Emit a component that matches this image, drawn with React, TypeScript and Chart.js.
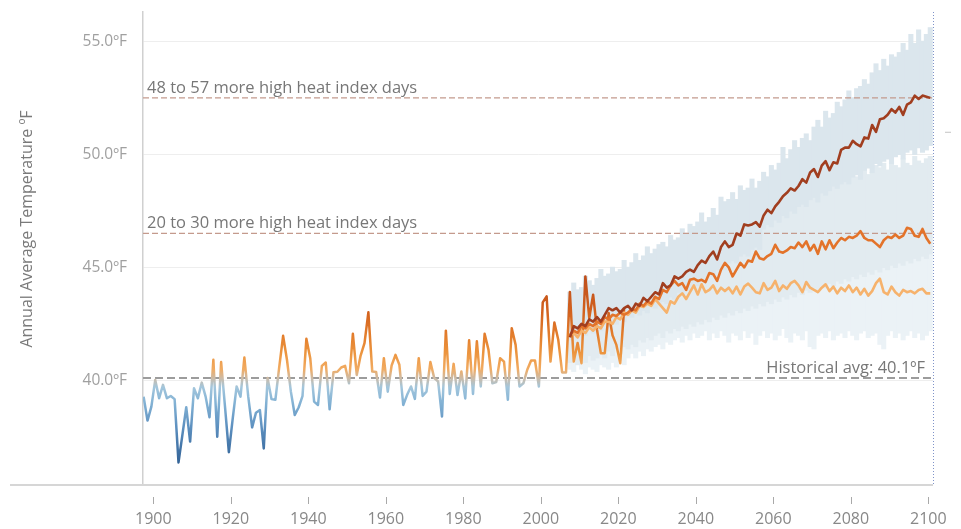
import React, { useEffect, useRef } from "react";
import { Chart, registerables } from "chart.js";

Chart.register(...registerables);

// ---------- DATA ----------
const HIST_START = 1897;
const histTemps = [
  39.28, 38.22, 38.84, 40.02, 39.21, 39.8, 39.21, 39.31, 39.17, 36.37,
  37.58, 38.81, 37.29, 39.65, 39.21, 39.9, 39.28, 38.37, 40.91, 37.51,
  40.81, 38.84, 36.82, 38.32, 39.73, 39.28, 41.01, 39.28, 37.92, 38.57,
  38.69, 36.99, 40.1, 39.17, 39.14, 40.6, 41.97, 40.9, 39.5, 38.47,
  38.8, 39.3, 41.84, 40.98, 39.06, 38.91, 40.64, 40.79, 38.72, 40.36,
  40.38, 40.57, 40.64, 39.87, 42.06, 40.24, 41.1, 41.65, 43.01, 40.39,
  40.37, 39.24, 40.98, 39.5, 40.66, 41.13, 40.69, 38.91, 39.36, 39.73,
  39.18, 40.98, 39.31, 39.5, 40.81, 40.1, 39.95, 38.4, 42.2, 39.4,
  40.73, 39.35, 40.39, 39.2, 41.77, 39.4, 41.73, 39.73, 42.06, 41.35,
  39.87, 39.93, 40.98, 40.83, 39.14, 42.31, 41.57, 39.73, 39.87, 40.47,
  40.88, 40.88, 39.73, 43.45, 43.72, 40.83, 42.56, 41.8, 40.35, 40.35,
  43.91, 40.83, 41.65, 40.76, 44.6, 42.76, 43.79, 42.24, 41.2, 41.2,
  42.98, 42.0, 41.57, 40.76, 43.2,
];

const PROJ_START = 2007;
const highScenario = [
  41.9, 42.4, 42.3, 42.5, 42.4, 42.7, 42.6, 42.8, 42.6, 42.9,
  43.2, 43.1, 43.2, 43.0, 43.2, 43.3, 43.1, 43.4, 43.3, 43.65,
  43.5, 43.7, 43.9, 43.8, 44.3, 44.1, 44.2, 44.6, 44.5, 44.6,
  44.8, 44.9, 44.8, 45.1, 45.3, 45.2, 45.5, 45.7, 45.35, 45.9,
  46.15, 45.9, 46.0, 46.5, 46.4, 46.9, 46.85, 46.9, 47.0, 46.8,
  47.3, 47.55, 47.4, 47.7, 47.9, 48.15, 48.3, 48.5, 48.4, 48.6,
  48.9, 48.75, 49.2, 49.35, 49.0, 49.5, 49.7, 49.3, 49.65, 49.6,
  50.2, 50.3, 50.3, 50.6, 50.45, 50.35, 50.75, 50.7, 51.3, 51.0,
  51.55, 51.6, 51.75, 52.0, 51.85, 52.1, 51.75, 52.2, 52.3, 52.6,
  52.45, 52.6, 52.55, 52.5,
];
const midScenario = [
  42.0, 42.2, 42.1, 42.4, 42.3, 42.5, 42.4, 42.6, 42.5, 42.8,
  42.7, 42.9, 42.85, 43.0, 42.9, 43.0, 43.15, 43.1, 43.4, 43.3,
  43.5, 43.4, 43.7, 43.6, 44.0, 43.9, 44.2, 44.4, 44.2, 44.3,
  44.0, 44.45, 44.5, 44.4, 44.45, 44.35, 44.75, 44.7, 44.4, 44.9,
  45.2, 45.0, 44.6, 44.9, 45.2, 45.0, 45.3, 45.25, 45.7, 45.4,
  45.35, 45.5, 45.6, 46.0, 45.7, 45.65, 45.75, 45.9, 45.85, 46.1,
  45.9, 46.15, 45.75, 46.0, 45.6, 46.15, 45.8, 46.2, 45.85, 46.1,
  46.3, 46.2, 46.35, 46.3, 46.4, 46.6, 46.3, 46.2, 46.2, 46.05,
  45.9, 46.2, 46.35, 46.3, 46.45, 46.3, 46.4, 46.75, 46.7, 46.4,
  46.35, 46.7, 46.3, 46.05,
];
const lowScenario = [
  42.0, 42.1, 41.9, 42.2, 42.1, 42.35, 42.2, 42.4, 42.3, 42.6,
  42.6, 42.5, 42.8, 42.7, 43.0, 42.9, 43.1, 43.0, 43.3, 43.25,
  43.4, 43.3, 43.6, 43.4, 43.2, 43.0, 43.5, 43.4, 43.7, 43.85,
  43.6, 43.9, 44.2, 43.8, 44.25, 43.9, 44.0, 44.2, 43.85, 44.1,
  43.95, 44.1, 43.85, 44.15, 43.8, 44.15, 44.28, 44.1, 43.9, 43.85,
  44.3, 44.0, 44.1, 44.4, 43.95, 44.2, 44.05, 44.3, 44.4, 44.2,
  43.9, 44.35, 44.1, 44.0, 43.9, 44.1, 44.25, 43.95, 44.15, 43.85,
  44.1, 43.95, 44.2, 43.9, 44.1, 43.8, 44.05, 43.75, 43.95, 44.3,
  44.5, 43.9, 43.8, 44.15, 43.9, 43.75, 44.0, 43.9, 43.95, 43.85,
  44.0, 44.05, 43.85, 43.85,
];

// model ranges (shaded bars)
const highRangeLo = [
  41.8, 42.0, 41.9, 42.1, 42.0, 42.3, 42.1, 42.4, 42.2, 42.5,
  42.4, 42.6, 42.5, 42.7, 42.6, 42.9, 42.8, 43.0, 42.9, 43.1,
  43.0, 43.3, 43.2, 43.4, 43.5, 43.4, 43.7, 43.6, 43.9, 43.8,
  44.1, 44.0, 44.3, 44.2, 44.5, 44.4, 44.7, 44.6, 44.9, 45.0,
  44.9, 45.2, 45.3, 45.2, 45.5, 45.6, 45.5, 45.8, 45.9, 45.8,
  46.7, 46.9, 46.8, 47.1, 47.0, 47.3, 47.2, 47.5, 47.4, 47.7,
  47.8, 47.7, 48.0, 48.1, 47.9, 48.3, 48.2, 48.4, 48.6, 48.5,
  48.7, 48.8, 48.7, 49.0, 49.1, 48.9, 49.3, 49.4, 49.2, 49.6,
  49.5, 49.7, 49.8, 49.6, 49.9, 50.0, 49.8, 50.1, 50.2, 50.0,
  50.3, 50.1, 50.2, 50.4,
];
const highRangeHi = [
  43.9, 44.3, 44.0, 44.1, 44.6, 44.4, 44.2, 44.5, 44.9, 44.6,
  44.7, 45.0, 44.8, 44.9, 45.3, 45.0, 45.2, 45.6, 45.3, 45.5,
  45.9, 45.6, 45.8, 46.0, 46.1, 45.9, 46.4, 46.2, 46.3, 46.7,
  46.5, 46.9, 46.8, 47.0, 47.4, 47.0, 47.2, 47.6, 47.3, 48.1,
  47.9, 48.0, 48.3, 48.0, 48.6, 48.4, 48.5, 48.9, 48.5, 48.8,
  49.2, 49.0, 49.5, 49.3, 49.6, 50.3, 49.8, 50.2, 50.6, 50.3,
  50.7, 50.9, 50.6, 51.2, 51.5, 51.2, 51.9, 51.6, 51.8, 52.3,
  52.1, 52.4, 52.8, 52.5, 52.9, 53.0, 53.3, 53.1, 53.6, 54.0,
  53.7, 54.2, 53.9, 54.4, 54.3, 54.5, 54.9, 54.6, 55.3, 54.9,
  55.5, 55.0, 55.3, 55.6,
];
const midRangeLo = [
  40.8, 40.9, 40.7, 41.0, 40.8, 41.1, 40.9, 41.0, 41.2, 41.0,
  41.3, 41.1, 41.4, 41.2, 41.5, 41.4, 41.6, 41.5, 41.8, 41.7,
  41.9, 41.8, 42.0, 42.1, 41.9, 42.2, 42.1, 42.3, 42.2, 42.4,
  42.3, 42.5, 42.4, 42.6, 42.5, 42.7, 42.6, 42.8, 42.7, 42.9,
  42.8, 43.0, 42.9, 43.1, 43.0, 43.2, 43.1, 43.3, 43.2, 43.4,
  43.3, 43.5, 43.4, 43.6, 43.5, 43.7, 43.6, 43.8, 43.7, 43.9,
  43.8, 44.0, 43.9, 44.1, 44.0, 44.2, 44.1, 44.3, 44.2, 44.4,
  44.3, 44.5, 44.4, 44.6, 44.5, 44.7, 44.6, 44.8, 44.7, 44.9,
  44.8, 45.0, 44.9, 45.1, 45.0, 45.2, 45.1, 45.3, 45.2, 45.4,
  45.3, 45.5, 45.4, 45.6,
];
const midRangeHi = [
  43.4, 43.6, 43.5, 43.8, 43.6, 43.9, 44.0, 43.8, 44.1, 44.2,
  44.0, 44.3, 44.4, 44.2, 44.5, 44.6, 44.4, 44.8, 44.7, 45.0,
  44.9, 45.2, 45.1, 45.3, 45.5, 45.3, 45.6, 45.8, 45.6, 45.9,
  46.0, 45.8, 46.2, 46.1, 46.4, 46.2, 46.5, 46.7, 46.4, 46.8,
  46.9, 46.7, 47.0, 47.2, 46.9, 47.3, 47.1, 47.4, 47.6, 47.3,
  47.6, 47.8, 47.7, 47.9, 48.0, 47.9, 48.1, 48.2, 48.0, 48.3,
  48.4, 48.3, 48.5, 48.4, 48.7, 48.6, 48.5, 48.8, 48.9, 48.7,
  49.0, 48.9, 49.1, 49.2, 49.0, 49.3, 49.4, 49.1, 49.2, 49.5,
  49.4, 49.6, 49.3, 49.7, 49.5, 49.4, 49.8, 49.6, 49.5, 49.9,
  49.7, 49.6, 49.8, 49.9,
];
const lowRangeLo = [
  40.5, 40.4, 40.7, 40.5, 40.3, 40.6, 40.5, 40.4, 40.7, 40.6,
  40.5, 40.8, 40.6, 40.9, 40.7, 41.0, 41.2, 41.0, 41.3, 41.1,
  41.4, 41.3, 41.5, 41.6, 41.4, 41.7, 41.6, 41.8, 41.9, 41.7,
  42.0, 41.8, 42.1, 41.9, 42.0, 42.2, 41.8, 42.1, 41.9, 42.2,
  42.0, 41.7, 42.1, 42.0, 41.8, 42.2, 41.9, 42.1, 41.6, 42.0,
  42.2, 41.9, 42.1, 41.8, 42.0, 42.3, 41.9, 41.7, 42.1, 42.0,
  41.8, 42.2, 41.5, 41.4, 42.0, 42.1, 41.9, 42.2, 41.8, 42.0,
  42.1, 41.9, 42.2, 42.0, 41.8, 42.1, 42.2, 41.9, 42.0, 42.1,
  41.6, 41.4, 42.0, 42.2, 41.9, 42.1, 41.8, 42.0, 42.2, 41.9,
  42.1, 41.8, 42.0, 42.2,
];
const lowRangeHi = [
  43.0, 43.2, 43.1, 43.3, 43.4, 43.2, 43.5, 43.4, 43.6, 43.5,
  43.7, 43.6, 43.8, 43.9, 43.7, 44.0, 43.9, 44.1, 44.2, 44.0,
  44.3, 44.2, 44.4, 44.3, 44.5, 44.6, 44.4, 44.7, 44.6, 44.8,
  44.7, 44.9, 44.8, 45.0, 44.9, 45.1, 45.0, 44.9, 45.2, 45.1,
  45.0, 45.3, 45.2, 45.1, 45.4, 45.2, 45.3, 45.1, 45.4, 45.3,
  45.2, 45.5, 45.3, 45.4, 45.2, 45.5, 45.6, 45.3, 45.4, 45.5,
  45.3, 45.6, 45.4, 45.5, 45.7, 45.4, 45.6, 45.5, 45.3, 45.6,
  45.7, 45.4, 45.6, 45.5, 45.8, 45.6, 45.4, 45.7, 45.5, 45.6,
  45.8, 45.5, 45.7, 45.6, 45.4, 45.7, 45.9, 45.6, 45.5, 45.8,
  45.6, 45.7, 45.9, 45.6,
];

const xTickYears = [1900, 1920, 1940, 1960, 1980, 2000, 2020, 2040, 2060, 2080, 2100];
const yTickValues = [40, 45, 50, 55];

const HIGH_REF = 52.5;
const MID_REF = 46.5;
const HIST_AVG = 40.1;
const HIGH_REF_LABEL = "48 to 57 more high heat index days";
const MID_REF_LABEL = "20 to 30 more high heat index days";
const HIST_AVG_LABEL = "Historical avg: 40.1\u00BAF";
const Y_TITLE = "Annual Average Temperature \u00BAF";

// axis range
const X_MIN = 1897.34;
const X_MAX = 2101.21;
const Y_MIN = 35.37;
const Y_MAX = 56.3;

// ---------- STYLE ----------
const FONT = '"Open Sans", Lato, "DejaVu Sans", sans-serif';
const tempStops: [number, string][] = [
  [36.0, "#2c5a8e"],
  [37.0, "#4274a7"],
  [38.0, "#5f92c1"],
  [39.0, "#83b2d4"],
  [39.7, "#a3c6dc"],
  [40.1, "#cdbba6"],
  [40.5, "#f1ab62"],
  [41.2, "#ec953f"],
  [42.0, "#e37d2c"],
  [43.0, "#d3621e"],
  [45.0, "#b9491a"],
];

const histColor = (context: any) => {
  const chart = context.chart;
  const { ctx, chartArea, scales } = chart;
  if (!chartArea || !scales || !scales.y) return "#e0893a";
  const ys = scales.y;
  const v0 = tempStops[0][0];
  const v1 = tempStops[tempStops.length - 1][0];
  const g = ctx.createLinearGradient(0, ys.getPixelForValue(v0), 0, ys.getPixelForValue(v1));
  tempStops.forEach(([v, c]) => g.addColorStop((v - v0) / (v1 - v0), c));
  return g;
};

const toPoints = (start: number, vals: number[]) => vals.map((v, i) => ({ x: start + i + 0.5, y: v }));
const toRange = (start: number, lo: number[], hi: number[]) =>
  lo.map((v, i) => ({ x: start + i + 0.5, y: [v, hi[i]] }));

const extrasPlugin = {
  id: "extras",
  afterDraw(chart: any) {
    const { ctx, chartArea: a, scales } = chart;
    const x = scales.x;
    const y = scales.y;
    ctx.save();
    // bottom axis rule
    ctx.strokeStyle = "#d6d6d6";
    ctx.lineWidth = 2;
    ctx.beginPath();
    ctx.moveTo(10, a.bottom);
    ctx.lineTo(a.right, a.bottom);
    ctx.stroke();
    // tick marks (detached from axis)
    ctx.strokeStyle = "#a9a9a9";
    ctx.lineWidth = 1;
    xTickYears.forEach((v) => {
      const px = Math.round(x.getPixelForValue(v)) + 0.5;
      ctx.beginPath();
      ctx.moveTo(px, a.bottom + 12);
      ctx.lineTo(px, a.bottom + 19);
      ctx.stroke();
    });
    // right edge dotted border
    ctx.strokeStyle = "#7f93c9";
    ctx.setLineDash([1, 2]);
    ctx.beginPath();
    ctx.moveTo(a.right + 0.5, a.top);
    ctx.lineTo(a.right + 0.5, a.bottom);
    ctx.stroke();
    ctx.setLineDash([]);
    ctx.strokeStyle = "#c4c4c4";
    ctx.beginPath();
    ctx.moveTo(a.right + 12, y.getPixelForValue(51.0) + 0.5);
    ctx.lineTo(a.right + 18, y.getPixelForValue(51.0) + 0.5);
    ctx.stroke();
    // reference labels
    ctx.font = `16.5px ${FONT}`;
    ctx.fillStyle = "#777777";
    ctx.textBaseline = "alphabetic";
    ctx.textAlign = "left";
    ctx.fillText(HIGH_REF_LABEL, a.left + 4, y.getPixelForValue(HIGH_REF) - 5);
    ctx.fillText(MID_REF_LABEL, a.left + 4, y.getPixelForValue(MID_REF) - 5);
    ctx.textAlign = "right";
    ctx.fillText(HIST_AVG_LABEL, a.right - 8, y.getPixelForValue(HIST_AVG) - 5);
    // y title
    ctx.translate(27, 229);
    ctx.rotate(-Math.PI / 2);
    ctx.textAlign = "center";
    ctx.textBaseline = "middle";
    ctx.fillStyle = "#7a7a7a";
    ctx.font = `16px ${FONT}`;
    ctx.fillText(Y_TITLE, 0, 0);
    ctx.restore();
  },
};

export default function App() {
  const canvasRef = useRef<HTMLCanvasElement | null>(null);

  useEffect(() => {
    document.body.style.margin = "0";
    const canvas = canvasRef.current;
    if (!canvas) return;

    const refLine = (val: number, color: string, width: number, dash: number[], order: number) => ({
      type: "line" as const,
      data: [
        { x: X_MIN, y: val },
        { x: X_MAX, y: val },
      ],
      borderColor: color,
      borderWidth: width,
      borderDash: dash,
      pointRadius: 0,
      order,
    });

    const projLine = (vals: number[], color: string, order: number) => ({
      type: "line" as const,
      data: toPoints(PROJ_START, vals),
      borderColor: color,
      borderWidth: 2.6,
      pointRadius: 0,
      tension: 0,
      borderJoinStyle: "round" as const,
      order,
    });

    const band = (lo: number[], hi: number[], color: string, order: number) => ({
      type: "bar" as const,
      data: toRange(PROJ_START, lo, hi),
      backgroundColor: color,
      borderWidth: 0,
      barPercentage: 1,
      categoryPercentage: 1,
      grouped: false,
      inflateAmount: 0.6,
      order,
    });

    const chart = new Chart(canvas, {
      type: "bar",
      data: {
        datasets: [
          projLine(highScenario, "#a13e1f", 0),
          projLine(midScenario, "#e3732a", 1),
          projLine(lowScenario, "#f6b26c", 2),
          {
            type: "line",
            data: toPoints(HIST_START, histTemps),
            borderColor: histColor,
            borderWidth: 2.5,
            pointRadius: 0,
            tension: 0,
            borderJoinStyle: "round",
            order: 3,
          } as any,
          refLine(HIST_AVG, "#9c9c9c", 2, [8, 4], 4),
          refLine(HIGH_REF, "#c49a8d", 1.2, [6, 3], 4),
          refLine(MID_REF, "#c49a8d", 1.2, [6, 3], 4),
          band(highRangeLo, highRangeHi, "#dbe6ed", 10),
          band(midRangeLo, midRangeHi, "#e2ebf0", 11),
          band(lowRangeLo, lowRangeHi, "#ebf2f6", 12),
        ] as any,
      },
      options: {
        responsive: false,
        animation: false,
        devicePixelRatio: 1,
        layout: { padding: { top: 12, right: 28, left: 0, bottom: 0 } },
        plugins: {
          legend: { display: false },
          tooltip: { enabled: false },
        },
        scales: {
          x: {
            type: "linear",
            min: X_MIN,
            max: X_MAX,
            offset: false,
            afterBuildTicks: (scale: any) => {
              scale.ticks = xTickYears.map((v) => ({ value: v }));
            },
            afterFit: (scale: any) => {
              scale.height = 44;
              scale.paddingLeft = 0;
              scale.paddingRight = 0;
            },
            grid: { display: false, drawTicks: false },
            border: { display: false },
            ticks: {
              padding: 25,
              color: "#888888",
              font: { family: FONT, size: 16 },
              maxRotation: 0,
              autoSkip: false,
              callback: (v: any) => String(v),
            },
          },
          y: {
            type: "linear",
            min: Y_MIN,
            max: Y_MAX,
            afterBuildTicks: (scale: any) => {
              scale.ticks = yTickValues.map((v) => ({ value: v }));
            },
            afterFit: (scale: any) => {
              scale.width = 143;
              scale.paddingTop = 0;
              scale.paddingBottom = 0;
            },
            grid: { color: "#eeeeee", lineWidth: 1, drawTicks: false },
            border: { display: true, color: "#d0d0d0", width: 1.5 },
            ticks: {
              padding: 16,
              color: "#a0a0a0",
              font: { family: FONT, size: 15.5 },
              callback: (v: any) => Number(v).toFixed(1) + "\u00BAF",
            },
          },
        },
      } as any,
      plugins: [extrasPlugin],
    });

    return () => chart.destroy();
  }, []);

  return (
    <div style={{ width: 961, height: 529 }}>
      <canvas ref={canvasRef} width={961} height={529} style={{ display: "block" }} />
    </div>
  );
}
